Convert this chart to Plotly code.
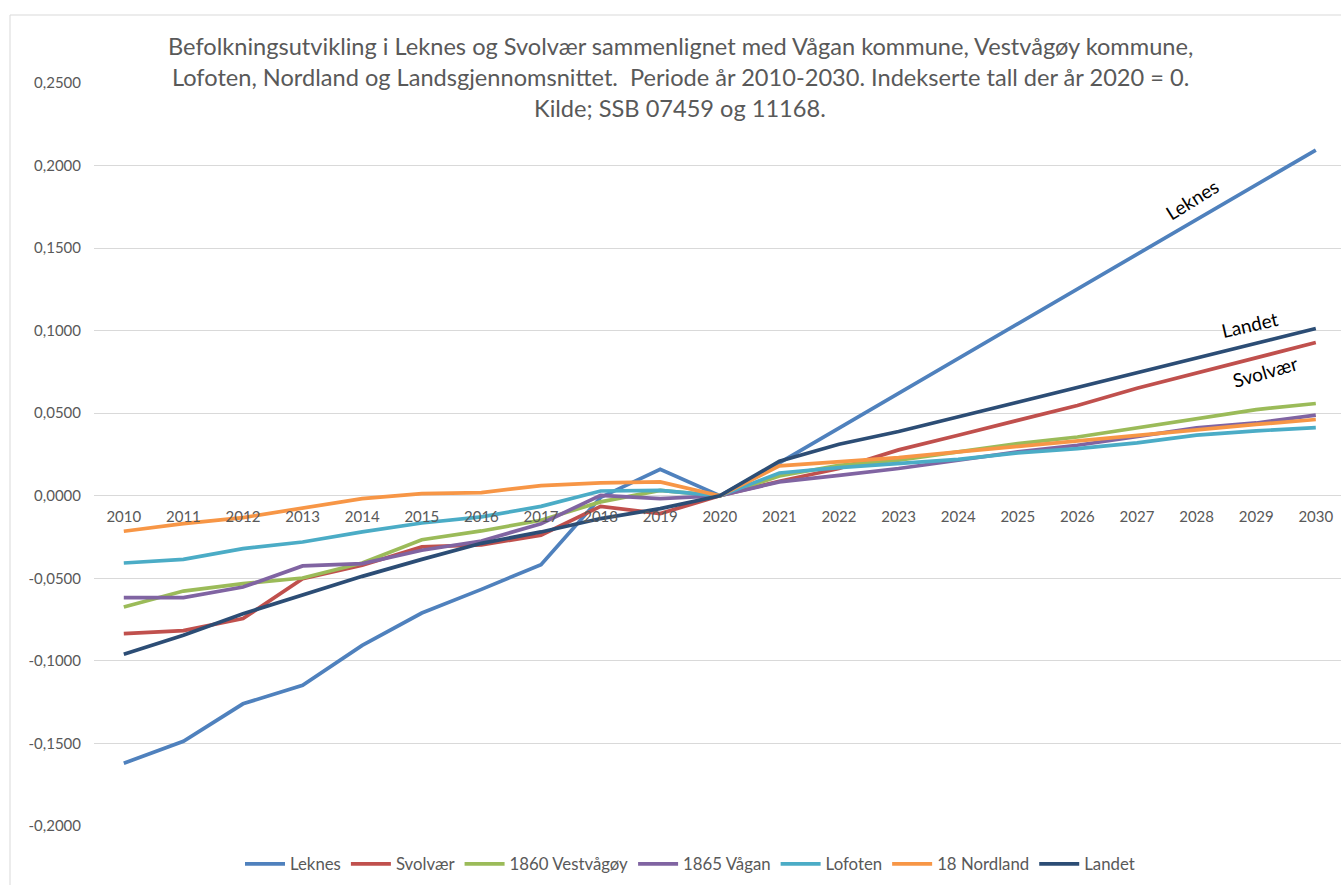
import plotly.graph_objects as go

years = [str(y) for y in range(2010, 2031)]

leknes = [-0.162, -0.1487, -0.126, -0.1148, -0.0906, -0.071, -0.0567, -0.0417, -0.001, 0.016, 0.0,
          0.0199, 0.041, 0.062, 0.083, 0.104, 0.125, 0.146, 0.167, 0.188, 0.2094]
svolvaer = [-0.0835, -0.0817, -0.0744, -0.0502, -0.0421, -0.031, -0.0297, -0.0239, -0.0064, -0.0108, 0.0,
            0.0088, 0.0165, 0.0278, 0.0367, 0.0456, 0.0547, 0.0651, 0.0742, 0.0835, 0.0928]
vestvagoy = [-0.0674, -0.0577, -0.0532, -0.0498, -0.0407, -0.0266, -0.0213, -0.0148, -0.0037, 0.0033, 0.0,
             0.012, 0.0185, 0.0215, 0.0266, 0.0316, 0.0356, 0.0411, 0.0464, 0.0522, 0.0559]
vagan = [-0.0617, -0.0617, -0.0553, -0.0425, -0.0411, -0.033, -0.0274, -0.0169, 0.0003, -0.0017, 0.0,
         0.0084, 0.0124, 0.0165, 0.0215, 0.0266, 0.0306, 0.0356, 0.0411, 0.0441, 0.0488]
lofoten = [-0.0407, -0.0385, -0.032, -0.028, -0.0219, -0.0165, -0.0128, -0.0064, 0.0029, 0.0033, 0.0,
           0.0138, 0.0171, 0.0195, 0.0221, 0.026, 0.0286, 0.032, 0.0367, 0.0393, 0.0413]
nordland = [-0.0215, -0.0169, -0.0132, -0.0072, -0.0017, 0.0013, 0.0019, 0.0062, 0.0078, 0.0084, 0.0,
            0.0181, 0.0205, 0.0231, 0.0266, 0.03, 0.033, 0.0367, 0.0401, 0.0432, 0.0462]
landet = [-0.096, -0.0845, -0.0714, -0.0599, -0.0488, -0.0385, -0.0288, -0.0219, -0.0138, -0.0078, 0.0,
          0.0209, 0.0312, 0.0389, 0.0478, 0.0567, 0.0656, 0.0748, 0.0836, 0.0924, 0.1013]

series_names = ["Leknes", "Svolvær", "1860 Vestvågøy", "1865 Vågan", "Lofoten", "18 Nordland", "Landet"]
series_values = [leknes, svolvaer, vestvagoy, vagan, lofoten, nordland, landet]
colors = ["#4F81BD", "#C0504D", "#9BBB59", "#8064A2", "#4BACC6", "#F79646", "#2C4D75"]

ytick_vals = [-0.2, -0.15, -0.1, -0.05, 0.0, 0.05, 0.1, 0.15, 0.2, 0.25]
ytick_text = ["-0,2000", "-0,1500", "-0,1000", "-0,0500", "0,0000", "0,0500", "0,1000", "0,1500", "0,2000", "0,2500"]

title_lines = [
    "Befolkningsutvikling i Leknes og Svolvær sammenlignet med Vågan kommune, Vestvågøy kommune,",
    "Lofoten, Nordland og Landsgjennomsnittet.  Periode år 2010-2030. Indekserte tall der år 2020 = 0.",
    "Kilde; SSB 07459 og 11168.",
]

label_texts = ["Leknes", "Landet", "Svolvær"]

W, H = 1341, 885
L, R, T, B = 94, 0, 83, 59
FONT = "Lato"
GREY = "#595959"

fig = go.Figure()
for name, vals, col in zip(series_names, series_values, colors):
    fig.add_trace(go.Scatter(x=years, y=vals, mode="lines", name=name,
                             line=dict(color=col, width=3.7)))

ymin, ymax = -0.2, 0.25
zero_pos = (0 - ymin) / (ymax - ymin)
plot_w = W - L - R
xr_max = -0.5 + plot_w / 59.6

fig.update_layout(
    width=W, height=H,
    margin=dict(l=L, r=R, t=T, b=B),
    paper_bgcolor="white", plot_bgcolor="white",
    font=dict(family=FONT, color=GREY),
    showlegend=True,
    legend=dict(orientation="h", x=(690 - L) / plot_w, xanchor="center", y=-0.051, yanchor="middle",
                font=dict(family=FONT, size=16.8, color=GREY), itemwidth=40,
                tracegroupgap=0),
    xaxis=dict(type="category", range=[-0.5, xr_max], showgrid=False, zeroline=False,
               showline=False, anchor="free", position=zero_pos,
               tickfont=dict(family=FONT, size=15, color=GREY), ticks="",
               ticklabelstandoff=10),
    yaxis=dict(range=[ymin, ymax], tickvals=ytick_vals, ticktext=ytick_text,
               showgrid=True, gridcolor="#D9D9D9", gridwidth=1,
               zeroline=True, zerolinecolor="#D9D9D9", zerolinewidth=1,
               showline=False, ticks="", ticklabelstandoff=12,
               tickfont=dict(family=FONT, size=15, color=GREY)),
)

plot_h = H - T - B
# chart border
fig.add_shape(type="rect", xref="paper", yref="paper",
              x0=(10 - L) / plot_w, x1=1.02,
              y0=-(H + 10 - (H - B)) / plot_h, y1=1 + (T - 15) / plot_h,
              line=dict(color="#D9D9D9", width=1), layer="below")

# title lines
for line, yc in zip(title_lines, [46, 77, 108]):
    fig.add_annotation(text=line, xref="paper", yref="paper",
                       x=(680 - L) / plot_w, y=1 + (T - yc) / plot_h,
                       xanchor="center", yanchor="middle", showarrow=False,
                       font=dict(family=FONT, size=23.6, color=GREY))

# line labels
label_pos = [(17.92, 0.1797, -32), (18.89, 0.1039, -13), (19.16, 0.075, -16)]
for txt, (lx, ly, ang) in zip(label_texts, label_pos):
    fig.add_annotation(text=txt, x=lx, y=ly, xref="x", yref="y", showarrow=False,
                       textangle=ang, font=dict(family=FONT, size=19, color="black"))

fig.write_html("out.html", config={"displayModeBar": False},
               post_script="document.body.style.margin='0';")
